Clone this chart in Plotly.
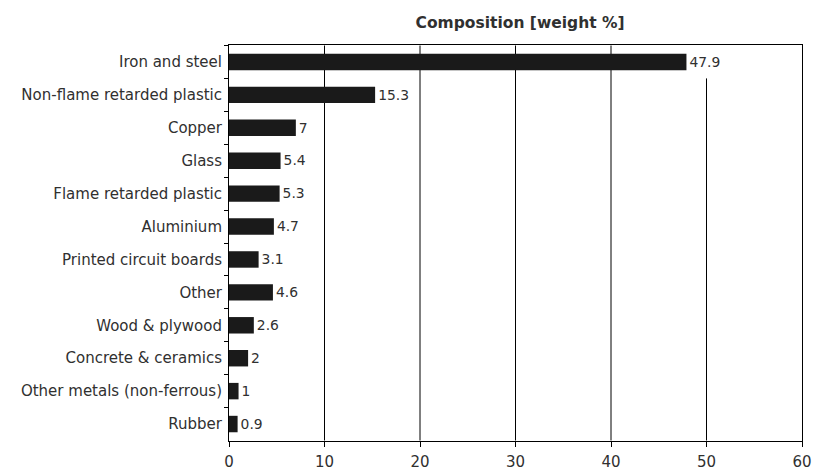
import plotly.graph_objects as go

categories = ["Iron and steel", "Non-flame retarded plastic", "Copper", "Glass",
              "Flame retarded plastic", "Aluminium", "Printed circuit boards", "Other",
              "Wood & plywood", "Concrete & ceramics", "Other metals (non-ferrous)", "Rubber"]
values = [47.9, 15.3, 7, 5.4, 5.3, 4.7, 3.1, 4.6, 2.6, 2, 1, 0.9]
labels = ["47.9", "15.3", "7", "5.4", "5.3", "4.7", "3.1", "4.6", "2.6", "2", "1", "0.9"]
x_ticks = [0, 10, 20, 30, 40, 50, 60]

FONT = "DejaVu Sans, Arial, sans-serif"
TXT = "#303030"

fig = go.Figure(go.Bar(
    y=categories, x=values, orientation="h",
    marker=dict(color="#1a1a1a", line=dict(width=0)),
    width=0.5,
    text=labels, textposition="outside", cliponaxis=False,
    textfont=dict(family=FONT, size=16, color=TXT),
))

fig.update_layout(
    width=814, height=470,
    margin=dict(l=229, r=12, t=45, b=29),
    paper_bgcolor="white", plot_bgcolor="white",
    showlegend=False,
    title=dict(text="<b>Composition [weight %]</b>", x=0.508, xref="paper", xanchor="center",
               y=1 - 23 / 470, yref="container", yanchor="middle",
               font=dict(family=FONT, size=15.5, color=TXT)),
    font=dict(family=FONT, size=15, color=TXT),
)

fig.update_xaxes(range=[0, 60], tickvals=x_ticks, showgrid=False, zeroline=False,
                 showline=True, linecolor="black", linewidth=1, mirror=True,
                 ticks="outside", ticklen=5, tickcolor="black", automargin=False,
                 ticklabelstandoff=2,
                 tickfont=dict(family=FONT, size=15, color=TXT))
fig.update_yaxes(autorange="reversed", showline=True, linecolor="black", linewidth=1, mirror=True,
                 ticks="outside", ticklen=4, tickcolor="black", tickson="boundaries",
                 showgrid=False, ticklabelstandoff=3, automargin=False,
                 tickfont=dict(family=FONT, size=15, color=TXT))

# vertical gridlines (50 line stops below the top value label)
for xv in x_ticks[1:-1]:
    y_top = 0.5 if xv == 50 else -0.5
    fig.add_shape(type="line", x0=xv, x1=xv, y0=len(categories) - 0.5, y1=y_top,
                  xref="x", yref="y", line=dict(color="black", width=1), layer="below")

fig.write_html("out.html", config={"displayModeBar": False},
               post_script="document.body.style.margin='0px';")
